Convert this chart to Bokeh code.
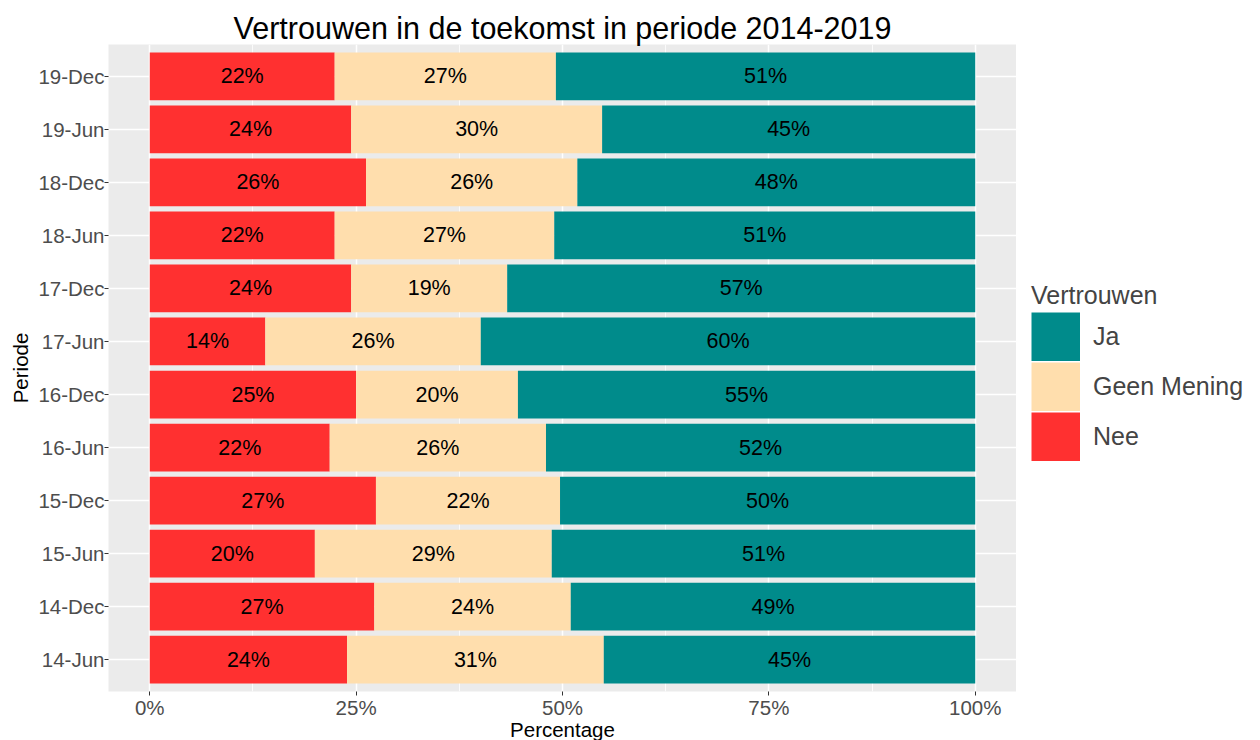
import numpy as np
from bokeh.plotting import figure
from bokeh.layouts import row
from bokeh.models import (ColumnDataSource, FactorRange, Range1d, FixedTicker,
                          Legend, LegendItem)
from bokeh.core.properties import value
from bokeh.embed import file_html
from bokeh.resources import INLINE

FONT = "Liberation Sans"

# ---- data (bottom to top, chronological) ----
periods = ["14-Jun", "14-Dec", "15-Jun", "15-Dec", "16-Jun", "16-Dec",
           "17-Jun", "17-Dec", "18-Jun", "18-Dec", "19-Jun", "19-Dec"]
nee = [23.9, 27.2, 20.0, 27.4, 21.8, 25.0, 14.0, 24.4, 22.4, 26.2, 24.4, 22.4]
geen = [31.1, 23.8, 28.7, 22.3, 26.2, 19.6, 26.1, 18.9, 26.6, 25.6, 30.4, 26.8]
ja = [45.0, 49.0, 51.3, 50.3, 52.0, 55.4, 59.9, 56.7, 51.0, 48.2, 45.2, 50.8]

series_names = ["Nee", "Geen Mening", "Ja"]
series_cols = ["nee", "geen", "ja"]
series_colors = ["#FF3030", "#FFDEAD", "#008B8B"]
x_ticks = [0, 25, 50, 75, 100]
x_tick_labels = ["0%", "25%", "50%", "75%", "100%"]
x_minor = [12.5, 37.5, 62.5, 87.5]

TOP, FH = 44, 647
KEY = 49
TITLE = "Vertrouwen in de toekomst in periode 2014-2019"

source = ColumnDataSource(dict(periode=periods, nee=nee, geen=geen, ja=ja))

p = figure(frame_width=908, frame_height=FH, output_backend="svg",
           toolbar_location=None,
           y_range=FactorRange(factors=periods, range_padding=0.1,
                               range_padding_units="absolute"),
           x_range=Range1d(-5, 105), title=TITLE,
           min_border_left=108, min_border_right=0, min_border_top=TOP,
           min_border_bottom=30)

p.background_fill_color = "#EBEBEB"
p.border_fill_color = "white"
p.outline_line_color = None

renderers = p.hbar_stack(series_cols, y="periode", height=0.9,
                         fill_color=series_colors, line_color=None,
                         source=source)

# labels in the middle of each segment
arr = np.array([nee, geen, ja])
cum = np.cumsum(arr, axis=0)
mids = cum - arr / 2
lab_x, lab_y, lab_t = [], [], []
for k in range(3):
    for i, per in enumerate(periods):
        lab_x.append(mids[k, i])
        lab_y.append(per)
        lab_t.append(f"{round(arr[k, i])}%")
p.text(x=lab_x, y=lab_y, text=lab_t, text_align="center",
       text_baseline="middle", text_font=value(FONT),
       text_font_size="21.5px", text_color="black")

def style_title(fig):
    fig.title.text_font = FONT
    fig.title.text_font_size = "30.5px"
    fig.title.text_font_style = "normal"
    fig.title.align = "center"
    fig.title.text_color = "black"
    fig.title.standoff = 0
    fig.title.offset = 0

style_title(p)

# grids
p.xgrid.ticker = FixedTicker(ticks=x_ticks, minor_ticks=x_minor)
p.xgrid.grid_line_color = "white"
p.xgrid.grid_line_width = 1.5
p.xgrid.minor_grid_line_color = "white"
p.xgrid.minor_grid_line_width = 0.8
p.ygrid.grid_line_color = "white"
p.ygrid.grid_line_width = 1.5

# axes
p.xaxis.ticker = FixedTicker(ticks=x_ticks)
p.xaxis.major_label_overrides = dict(zip(x_ticks, x_tick_labels))
p.xaxis.axis_label = "Percentage"
p.yaxis.axis_label = "Periode"
for ax in (p.xaxis[0], p.yaxis[0]):
    ax.axis_line_color = None
    ax.major_tick_line_color = "#333333"
    ax.major_tick_out = 4
    ax.major_tick_in = 0
    ax.minor_tick_line_color = None
    ax.major_label_text_font = FONT
    ax.major_label_text_font_size = "20.5px"
    ax.major_label_text_color = "#4D4D4D"
    ax.major_label_standoff = 0
    ax.major_label_text_line_height = 1.0
    ax.axis_label_text_font = FONT
    ax.axis_label_text_font_size = "20.5px"
    ax.axis_label_text_font_style = "normal"
    ax.axis_label_text_color = "black"
    ax.axis_label_text_line_height = 1.0
    ax.axis_label_standoff = 0
p.xaxis.axis_label_standoff = -4
p.yaxis.axis_label_standoff = 3

# ---- legend panel to the right (same frame height/top as the chart) ----
q = figure(frame_width=236, frame_height=FH, output_backend="svg",
           toolbar_location=None, x_axis_type=None, y_axis_type=None,
           y_range=FactorRange(factors=periods), x_range=Range1d(1000, 1001),
           title=" ", min_border_left=0, min_border_right=0,
           min_border_top=TOP, min_border_bottom=0)
style_title(q)
q.outline_line_color = None
q.background_fill_color = "white"
q.border_fill_color = "white"
q.xgrid.visible = False
q.ygrid.visible = False
# key renderers (lie outside the legend panel's x range; only their legend
# swatches show): thick lines give full-size square keys
key_renderers = [q.line(x=col, y="periode", source=source, line_color=c,
                        line_width=KEY, line_cap="butt")
                 for col, c in zip(series_cols, series_colors)]
items = [LegendItem(label=series_names[k], renderers=[key_renderers[k]])
         for k in (2, 1, 0)]
legend = Legend(items=items, title="Vertrouwen", location=(15, 230),
                glyph_width=KEY, glyph_height=KEY, spacing=1,
                label_standoff=13, label_text_font=FONT,
                label_text_font_size="25px", title_text_font=FONT,
                title_text_font_size="25px", title_text_font_style="normal",
                title_standoff=2, background_fill_alpha=0,
                border_line_color=None, margin=0, padding=0)
q.add_layout(legend)

open("out.html", "w").write(file_html(row(p, q), INLINE))
